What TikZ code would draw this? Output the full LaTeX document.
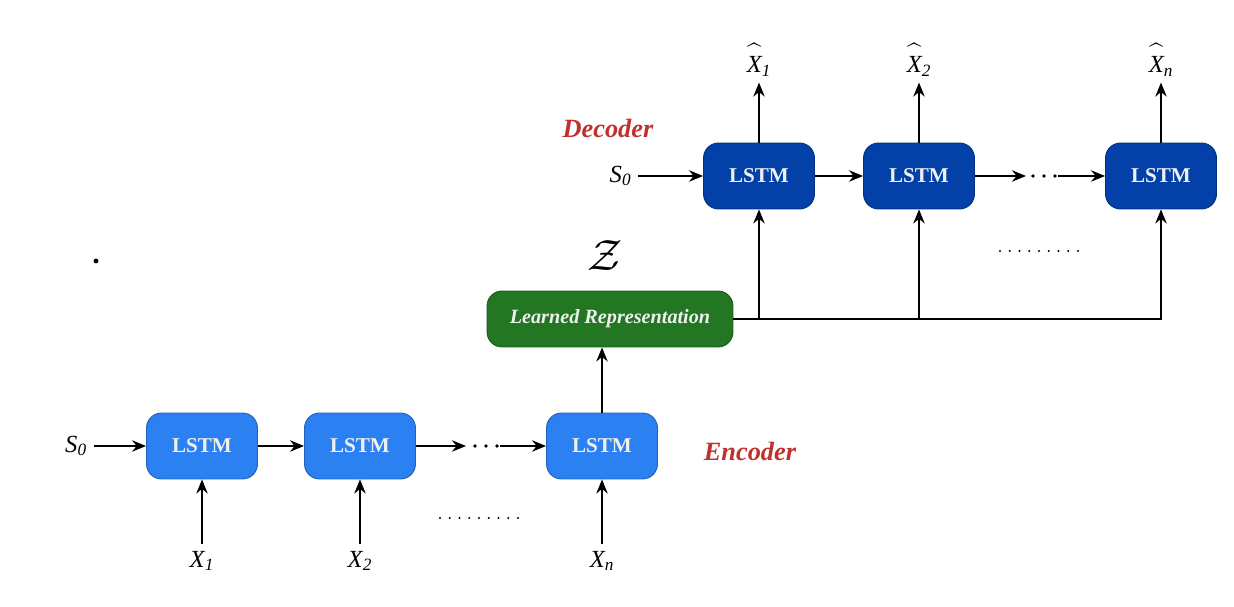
\documentclass[tikz,border=0pt]{standalone}
\usepackage{amsmath}
\usepackage{fontspec}
\setmainfont{Liberation Serif}
\usetikzlibrary{positioning, arrows.meta}

\definecolor{encblue}{HTML}{2B80F2}
\definecolor{decblue}{HTML}{0340A8}
\definecolor{lrgreen}{HTML}{237722}
\definecolor{tagred}{HTML}{C0302C}

\newcommand{\inlbl}[2]{$\textit{#1}_{\textit{#2}}$}
\newcommand{\outlbl}[1]{$\widehat{\textit{X}\rule{0pt}{12.5pt}}_{\textit{#1}}$}

\begin{document}
\begin{tikzpicture}[x=0.02cm, y=-0.02cm, ->, >={Stealth[length=8pt,width=6.5pt]}, line width=0.8pt,
        lstm/.style={rectangle, rounded corners=0.3cm, draw=#1!75!black, line width=0.5pt, fill=#1,
            minimum width=2.22cm, minimum height=1.32cm, text=white!88!gray,
            font=\fontsize{12}{12}\selectfont\bfseries},
        lbl/.style={font=\fontsize{14}{14}\selectfont},
        tag/.style={text=tagred, font=\fontsize{15}{15}\selectfont\bfseries\itshape}]
        \useasboundingbox (0,0) rectangle (1234,607);

        % encoder
        \node (E1) [lstm=encblue] at (202,446) {LSTM};
        \node (E2) [lstm=encblue] at (360,446) {LSTM};
        \node (E3) [lstm=encblue] at (602,446) {LSTM};
        \node (S0e) [lbl, left=1.05cm of E1] {\inlbl{S}{0}};
        \node (X1) [lbl, below=1.3cm of E1] {\inlbl{X}{1}};
        \node (X2) [lbl, below=1.3cm of E2] {\inlbl{X}{2}};
        \node (Xn) [lbl, below=1.3cm of E3] {\inlbl{X}{n}};
        \node (enc) [tag] at (750,451) {Encoder};
        \coordinate (ea) at (466,446);
        \coordinate (eb) at (500,446);

        % learned representation
        \node (LR) [lstm=lrgreen, minimum width=4.92cm, minimum height=1.12cm,
            font=\fontsize{11.5}{11.5}\selectfont\bfseries\itshape] at (610,319) {Learned Representation};
        \node (Z) [font=\fontsize{36}{36}\selectfont] at (605,256) {$\mathcal{Z}$};

        % decoder
        \node (D1) [lstm=decblue] at (759,176) {LSTM};
        \node (D2) [lstm=decblue] at (919,176) {LSTM};
        \node (D3) [lstm=decblue] at (1161,176) {LSTM};
        \node (S0d) [lbl, left=1.3cm of D1] {\inlbl{S}{0}};
        \node (Y1) [lbl, above=1.2cm of D1] {\outlbl{1}};
        \node (Y2) [lbl, above=1.2cm of D2] {\outlbl{2}};
        \node (Yn) [lbl, above=1.2cm of D3] {\outlbl{n}};
        \node (dec) [tag] at (608,128) {Decoder};
        \coordinate (da) at (1026,176);
        \coordinate (db) at (1058,176);

        \path
            (S0e) edge (E1)
            (E1) edge (E2)
            (E2) edge (ea)
            (eb) edge (E3)
            (X1) edge (E1)
            (X2) edge (E2)
            (Xn) edge (E3)
            (S0d) edge (D1)
            (D1) edge (D2)
            (D2) edge (da)
            (db) edge (D3)
            (D1) edge (Y1)
            (D2) edge (Y2)
            (D3) edge (Yn);
        \draw (E3) -- (E3 |- LR.south);
        \draw (LR.east) -| (D3);
        \draw (D1.south |- LR.east) -- (D1);
        \draw (D2.south |- LR.east) -- (D2);

        % dots
        \foreach \x in {475,486,497} \fill (\x,446) circle (1.1pt);
        \foreach \x in {1033,1044,1055} \fill (\x,176) circle (1.1pt);
        \foreach \i in {0,...,8} \fill (440+9.75*\i,518) circle (0.7pt);
        \foreach \i in {0,...,8} \fill (1000+9.75*\i,251) circle (0.7pt);
        \fill (96,261) circle (1.4pt);
    \end{tikzpicture}
\end{document}
